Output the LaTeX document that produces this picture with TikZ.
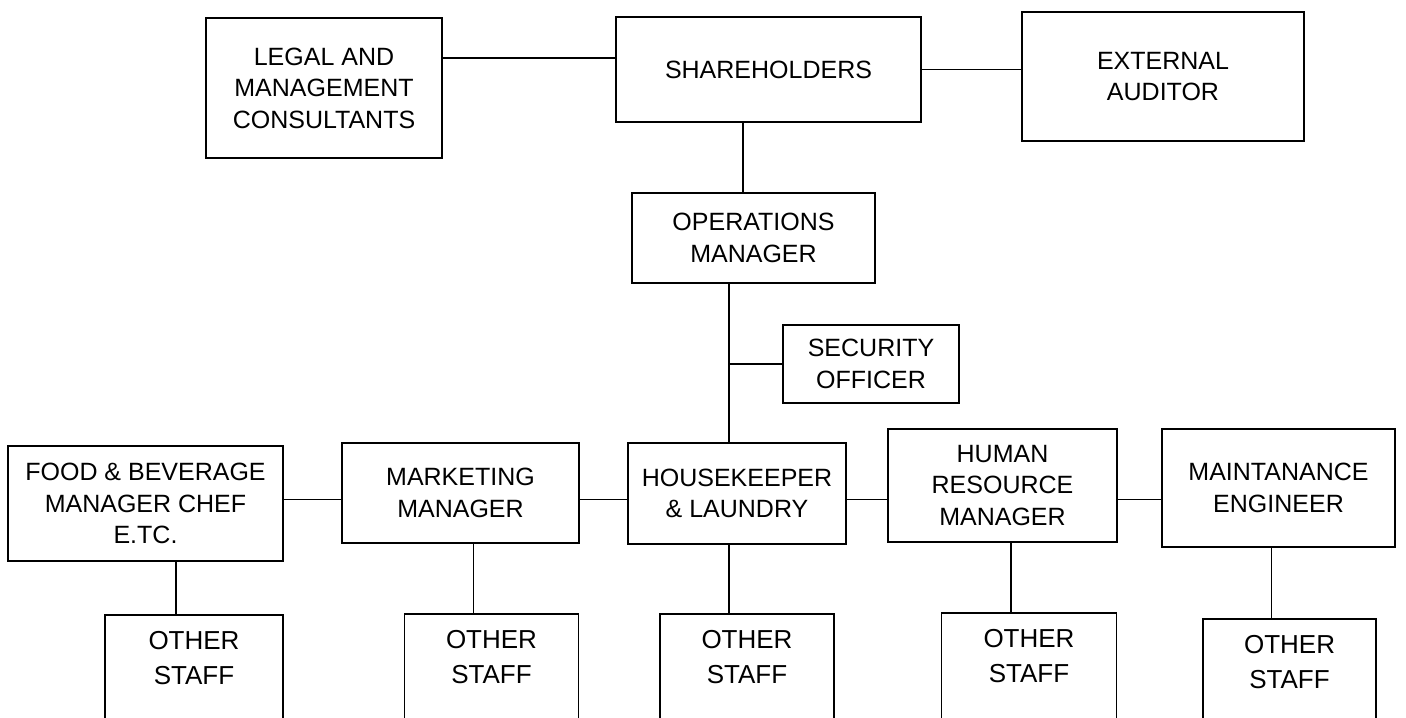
\documentclass[tikz,border=0pt]{standalone}
\usepackage{fontspec}
\setmainfont{Liberation Sans}
\usetikzlibrary{calc, positioning}

\begin{document}
\begin{tikzpicture}[
    x=0.5pt, y=-0.5pt,
    every node/.style={font=\fontsize{12.5}{15.8}\selectfont, align=center},
    box/.style={draw, rectangle, line width=0.8pt, inner sep=2pt},
    staffbox/.style={draw, rectangle, line width=0.8pt, anchor=north, minimum height=62pt},
    stafftext/.style={font=\fontsize{13}{17.5}\selectfont},
    link/.style={line width=0.8pt}
]
\clip (0,0) rectangle (1406,717);
\fill[white] (0,0) rectangle (1406,717);

% top level
\node[box, minimum width=118pt, minimum height=70pt] (legal) at (324,88) {LEGAL AND\\MANAGEMENT\\CONSULTANTS};
\node[box, minimum width=152.5pt, minimum height=52.5pt] (share) at (768.5,69.5) {SHAREHOLDERS};
\node[box, minimum width=141pt, minimum height=64.5pt] (audit) at (1163,76.5) {EXTERNAL\\AUDITOR};
\node[box, minimum width=121.5pt, minimum height=45pt] (ops) at (753.5,238) {OPERATIONS\\MANAGER};
\node[box, minimum width=88pt, minimum height=39pt] (sec) at (871,364) {SECURITY\\OFFICER};

% managers
\node[box, minimum width=137.5pt, minimum height=57.5pt] (food) at (145.5,503.5) {FOOD \& BEVERAGE\\MANAGER CHEF\\E.TC.};
\node[box, minimum width=118.5pt, minimum height=50pt] (mkt) at (460.5,493) {MARKETING\\MANAGER};
\node[box, minimum width=109pt, minimum height=50.5pt] (house) at (737,493.5) {HOUSEKEEPER\\\& LAUNDRY};
\node[box, minimum width=114.5pt, minimum height=56.5pt] (hrm) at (1002.5,485.5) {HUMAN\\RESOURCE\\MANAGER};
\node[box, minimum width=116.5pt, minimum height=59pt] (maint) at (1278.5,488) {MAINTANANCE\\ENGINEER};

% other staff
\node[staffbox, minimum width=89pt] (os1) at (194,614) {};
\node[staffbox, minimum width=87pt] (os2) at (491.5,613) {};
\node[staffbox, minimum width=87pt] (os3) at (747,613) {};
\node[staffbox, minimum width=87.5pt] (os4) at (1029,612) {};
\node[staffbox, minimum width=86.5pt] (os5) at (1289.5,618) {};
\foreach \s in {os1, os2, os3, os4, os5}
    \node[stafftext] (\s t) at ([yshift=-22pt]\s.north) {OTHER\\STAFF};

% connectors
\coordinate (trunk) at ([xshift=-4pt]house.north);
\coordinate (row) at ([yshift=-3pt]house.west);
\draw[link] ([yshift=15pt]legal.east) -- ([yshift=15pt]legal.east -| share.west);
\draw[link] (share.east) -- (share.east -| audit.west);
\draw[link] ([xshift=-5.25pt]ops.north) -- ([xshift=-5.25pt]ops.north |- share.south);
\draw[link] (trunk) -- (trunk |- ops.south);
\draw[link] (sec.west) -- (sec.west -| trunk);
\draw[link] (food.east |- row) -- (mkt.west |- row);
\draw[link] (mkt.east |- row) -- (house.west |- row);
\draw[link] (house.east |- row) -- (hrm.west |- row);
\draw[link] (hrm.east |- row) -- (maint.west |- row);
\foreach \m/\s in {food/os1, mkt/os2, house/os3, hrm/os4, maint/os5}
    \draw[link] ([xshift=-9pt]\s.north) -- ([xshift=-9pt]\s.north |- \m.south);

\end{tikzpicture}
\end{document}
